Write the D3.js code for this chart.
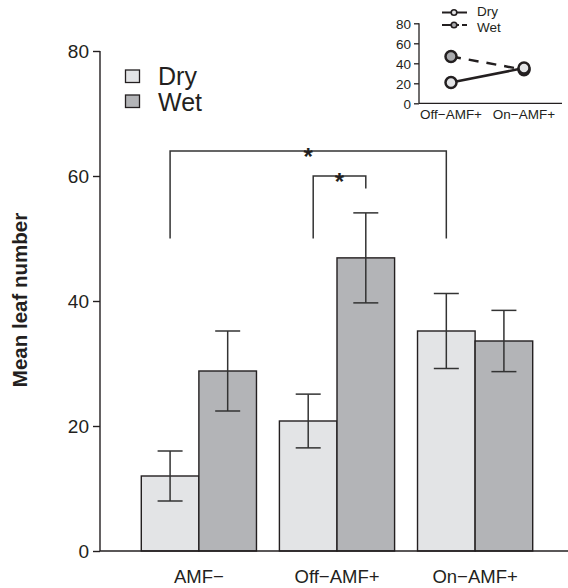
<!DOCTYPE html>
<html lang="en">
<head>
<meta charset="UTF-8"/>
<title>Mean leaf number</title>
<script src="https://d3js.org/d3.v7.min.js"></script>
<style>
  body { margin: 0; background: #fff; }
  svg { display: block; font-family: "Liberation Sans", Arial, sans-serif; }
</style>
</head>
<body>
<div id="chart"></div>
<script>
// data
var groups = ["AMF\u2212", "Off\u2212AMF+", "On\u2212AMF+"];
var series = ["Dry", "Wet"];
var dryMean = [12.0, 20.8, 35.2];
var wetMean = [28.8, 46.9, 33.6];
var dryErr = [4.0, 4.3, 6.0];
var wetErr = [6.4, 7.2, 4.9];
var yTicks = [0, 20, 40, 60, 80];

// inset: the two AMF+ treatments only
var insetGroups = ["Off\u2212AMF+", "On\u2212AMF+"];
var insetDry = [20.8, 35.2];
var insetWet = [46.9, 33.6];
var insetTicks = [0, 20, 40, 60, 80];

// significance brackets: [group, series] to [group, series], top value, leg bottoms
var brackets = [
  { from: [0, 0], to: [2, 0], top: 64, legs: [50, 50], label: "*" },
  { from: [1, 0], to: [1, 1], top: 60, legs: [50, 58], label: "*", shift: 5 }
];

var width = 568, height = 588;
var fills = { Dry: "#e3e4e6", Wet: "#b3b4b7" };
var ink = "#231f20";

var svg = d3.select("#chart").append("svg")
  .attr("width", width)
  .attr("height", height);

// scales
var x = d3.scaleBand().domain(groups).range([104, 570]).paddingInner(0.166).paddingOuter(0.27);
var xs = d3.scaleBand().domain(series).range([0, x.bandwidth()]);
var y = d3.scaleLinear().domain([0, 80]).range([551, 51]);

// build rows for bars
var rows = [];
groups.forEach(function(g, i) {
  rows.push({ group: g, s: "Dry", mean: dryMean[i], err: dryErr[i] });
  rows.push({ group: g, s: "Wet", mean: wetMean[i], err: wetErr[i] });
});

// bars
svg.append("g").selectAll("rect")
  .data(rows)
  .enter()
  .append("rect")
  .attr("x", function(d) { return x(d.group) + xs(d.s); })
  .attr("y", function(d) { return y(d.mean); })
  .attr("width", xs.bandwidth())
  .attr("height", function(d) { return y(0) - y(d.mean); })
  .attr("fill", function(d) { return fills[d.s]; })
  .attr("stroke", ink)
  .attr("stroke-width", 1.4);

// error bars
var eb = svg.append("g").attr("stroke", "#333").attr("stroke-width", 1.5);
rows.forEach(function(d) {
  var cx = x(d.group) + xs(d.s) + xs.bandwidth() / 2;
  eb.append("line").attr("x1", cx).attr("x2", cx)
    .attr("y1", y(d.mean + d.err)).attr("y2", y(d.mean - d.err));
  [d.mean + d.err, d.mean - d.err].forEach(function(v) {
    eb.append("line").attr("x1", cx - 12.5).attr("x2", cx + 12.5)
      .attr("y1", y(v)).attr("y2", y(v));
  });
});

// y axis
var yAxis = svg.append("g")
  .attr("transform", "translate(100,0)")
  .call(d3.axisLeft(y).tickValues(yTicks).tickSize(7).tickPadding(4));
yAxis.select(".domain").attr("d", "M0," + y(80) + "V" + y(0)).attr("stroke", ink).attr("stroke-width", 1.4);
yAxis.selectAll(".tick line").attr("stroke", ink).attr("stroke-width", 1.4);
yAxis.selectAll("text").style("font-size", "19px").attr("fill", ink).attr("dy", "0.36em");

// x axis
svg.append("line")
  .attr("x1", 100).attr("x2", 568)
  .attr("y1", y(0)).attr("y2", y(0))
  .attr("stroke", ink).attr("stroke-width", 1.4);
svg.append("g").selectAll("text")
  .data(groups)
  .enter()
  .append("text")
  .attr("x", function(d) { return x(d) + x.bandwidth() / 2; })
  .attr("y", 583)
  .attr("text-anchor", "middle")
  .style("font-size", "18.5px")
  .attr("fill", ink)
  .text(function(d) { return d; });

// y axis title
svg.append("text")
  .attr("transform", "translate(27,300) rotate(-90)")
  .attr("text-anchor", "middle")
  .style("font-size", "20.5px")
  .style("font-weight", "bold")
  .attr("fill", ink)
  .text("Mean leaf number");

// legend
var leg = svg.append("g");
series.forEach(function(s, i) {
  leg.append("rect")
    .attr("x", 125.5).attr("y", 70 + i * 25)
    .attr("width", 14).attr("height", 12.5)
    .attr("fill", fills[s]).attr("stroke", ink).attr("stroke-width", 1.3);
  leg.append("text")
    .attr("x", 158).attr("y", 85 + i * 25.5)
    .style("font-size", "25px")
    .attr("fill", ink)
    .text(s);
});

// significance brackets
var br = svg.append("g").attr("stroke", "#333").attr("stroke-width", 1.5).attr("fill", "none");
brackets.forEach(function(b) {
  var x1 = x(groups[b.from[0]]) + xs(series[b.from[1]]) + xs.bandwidth() / 2 + (b.shift || 0);
  var x2 = x(groups[b.to[0]]) + xs(series[b.to[1]]) + xs.bandwidth() / 2;
  br.append("path")
    .attr("d", "M" + x1 + "," + y(b.legs[0]) + "V" + y(b.top) + "H" + x2 + "V" + y(b.legs[1]));
  svg.append("text")
    .attr("x", (x1 + x2) / 2)
    .attr("y", y(b.top) + 14)
    .attr("text-anchor", "middle")
    .style("font-size", "24px")
    .style("font-weight", "bold")
    .attr("fill", ink)
    .text(b.label);
});

// inset line chart
var ix = d3.scalePoint().domain(insetGroups).range([451, 524]);
var iy = d3.scaleLinear().domain([0, 80]).range([103.3, 23.3]);
var inset = svg.append("g");

var iyAxis = inset.append("g")
  .attr("transform", "translate(419,0)")
  .call(d3.axisLeft(iy).tickValues(insetTicks).tickSize(5).tickPadding(3));
iyAxis.select(".domain").attr("d", "M0," + iy(80) + "V" + iy(0)).attr("stroke", ink).attr("stroke-width", 1.3);
iyAxis.selectAll(".tick line").attr("stroke", ink).attr("stroke-width", 1.3);
iyAxis.selectAll("text").style("font-size", "13.5px").attr("fill", ink).attr("dy", "0.36em");

inset.append("line")
  .attr("x1", 419).attr("x2", 562)
  .attr("y1", iy(0)).attr("y2", iy(0))
  .attr("stroke", ink).attr("stroke-width", 1.3);
inset.selectAll(".ixl")
  .data(insetGroups)
  .enter()
  .append("text")
  .attr("class", "ixl")
  .attr("x", function(d) { return ix(d); })
  .attr("y", 119)
  .attr("text-anchor", "middle")
  .style("font-size", "13.5px")
  .attr("fill", ink)
  .text(function(d) { return d; });

var line = d3.line()
  .x(function(d, i) { return ix(insetGroups[i]); })
  .y(function(d) { return iy(d); });

inset.append("path").datum(insetWet)
  .attr("d", line).attr("fill", "none")
  .attr("stroke", ink).attr("stroke-width", 2.5).attr("stroke-dasharray", "10,8");
inset.append("path").datum(insetDry)
  .attr("d", line).attr("fill", "none")
  .attr("stroke", ink).attr("stroke-width", 2.5);

[[insetWet, "#a9aaad"], [insetDry, "#e3e4e6"]].forEach(function(p) {
  inset.selectAll(null)
    .data(p[0])
    .enter()
    .append("circle")
    .attr("cx", function(d, i) { return ix(insetGroups[i]); })
    .attr("cy", function(d) { return iy(d); })
    .attr("r", 5.5)
    .attr("fill", p[1])
    .attr("stroke", ink)
    .attr("stroke-width", 2.5);
});

// inset legend
var il = inset.append("g");
series.forEach(function(s, i) {
  var ly = 12.5 + i * 12.5;
  il.append("line")
    .attr("x1", 442).attr("x2", i === 0 ? 467 : 459)
    .attr("y1", ly).attr("y2", ly)
    .attr("stroke", ink).attr("stroke-width", 2);
  if (i === 1) {
    il.append("line")
      .attr("x1", 462).attr("x2", 467)
      .attr("y1", ly).attr("y2", ly)
      .attr("stroke", ink).attr("stroke-width", 2);
  }
  il.append("circle")
    .attr("cx", 454).attr("cy", ly).attr("r", 2.8)
    .attr("fill", i === 0 ? "#e3e4e6" : "#a9aaad")
    .attr("stroke", ink).attr("stroke-width", 1.6);
  il.append("text")
    .attr("x", 477).attr("y", 16 + i * 15.5)
    .style("font-size", "13.5px")
    .attr("fill", ink)
    .text(s);
});
</script>
</body>
</html>
